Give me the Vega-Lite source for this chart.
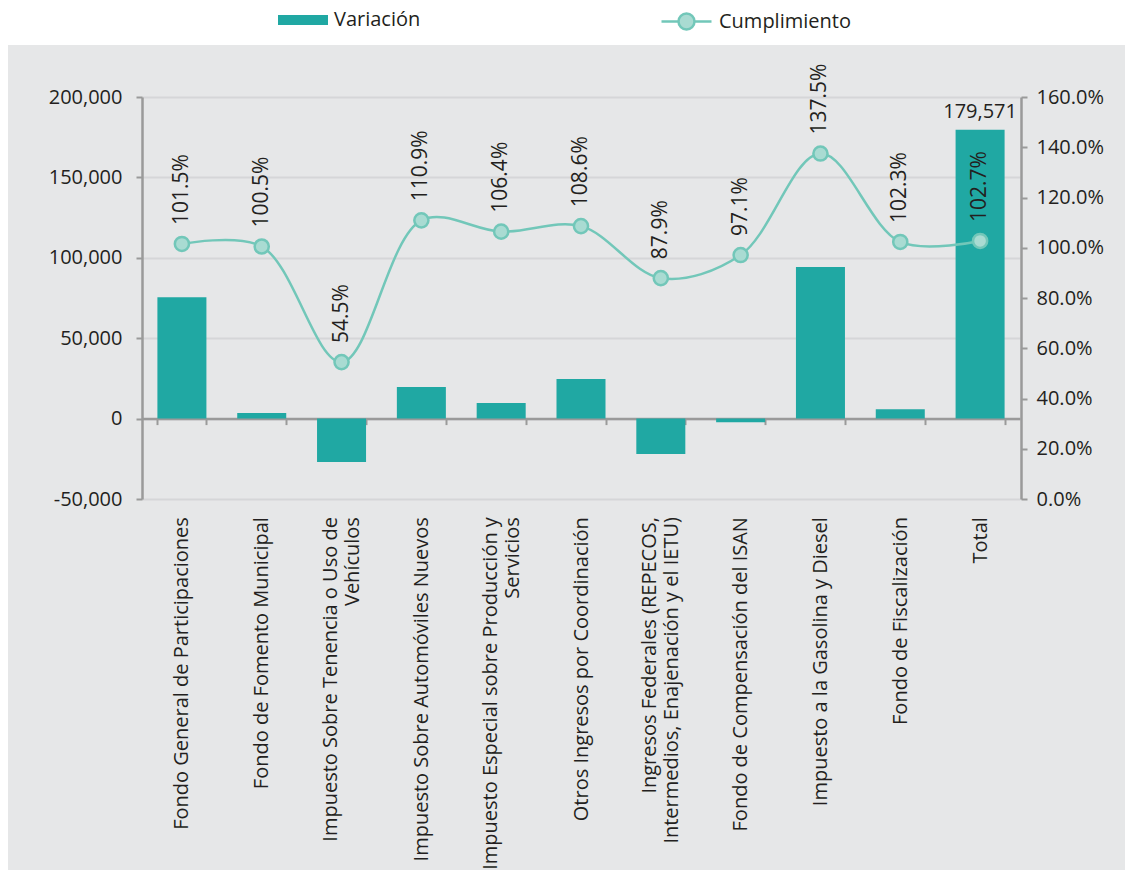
{
  "$schema": "https://vega.github.io/schema/vega-lite/v6.json",
  "width": 1117,
  "height": 825,
  "autosize": {"type": "none"},
  "padding": {"left": 8, "top": 45, "right": 5, "bottom": 4},
  "background": "#ffffff",
  "config": {
    "view": {"fill": "#e6e7e8", "stroke": null},
    "font": "Open Sans",
    "axis": {
      "labelFont": "Open Sans",
      "labelColor": "#231f20",
      "labelFontSize": 20,
      "domainColor": "#9a9a9a",
      "tickColor": "#9a9a9a",
      "domainWidth": 2.5,
      "tickWidth": 2,
      "tickSize": 6,
      "title": null
    },
    "legend": {
      "labelFont": "Open Sans",
      "labelFontSize": 20,
      "labelColor": "#231f20",
      "padding": 0
    }
  },
  "data": {
    "values": [
      {"concepto": "Fondo General de Participaciones", "variacion": 75500, "cumplimiento": 1.015},
      {"concepto": "Fondo de Fomento Municipal", "variacion": 3500, "cumplimiento": 1.005},
      {"concepto": "Impuesto Sobre Tenencia o Uso de Vehículos", "variacion": -27000, "cumplimiento": 0.545},
      {"concepto": "Impuesto Sobre Automóviles Nuevos", "variacion": 19700, "cumplimiento": 1.109},
      {"concepto": "Impuesto Especial sobre Producción y Servicios", "variacion": 9700, "cumplimiento": 1.064},
      {"concepto": "Otros Ingresos por Coordinación", "variacion": 24600, "cumplimiento": 1.086},
      {"concepto": "Ingresos Federales (REPECOS, Intermedios, Enajenación y el IETU)", "variacion": -22000, "cumplimiento": 0.879},
      {"concepto": "Fondo de Compensación del ISAN", "variacion": -2200, "cumplimiento": 0.971},
      {"concepto": "Impuesto a la Gasolina y Diesel", "variacion": 94300, "cumplimiento": 1.375},
      {"concepto": "Fondo de Fiscalización", "variacion": 5800, "cumplimiento": 1.023},
      {"concepto": "Total", "variacion": 179571, "cumplimiento": 1.027}
    ]
  },
  "encoding": {
    "x": {
      "field": "concepto",
      "type": "nominal",
      "sort": null,
      "scale": {"type": "band", "range": [134, 1012], "paddingInner": 0.386, "paddingOuter": 0.193},
      "axis": {
        "orient": "bottom",
        "offset": -451.4,
        "labelAngle": -90,
        "labelPadding": 92,
        "labelLimit": 500,
        "labelOverlap": false,
        "labelLineHeight": 22,
        "labelOffset": {
          "condition": {
            "test": "datum.value === 'Impuesto Sobre Tenencia o Uso de Vehículos' || datum.value === 'Impuesto Especial sobre Producción y Servicios' || datum.value === 'Ingresos Federales (REPECOS, Intermedios, Enajenación y el IETU)'",
            "value": -11
          },
          "value": 0
        },
        "tickBand": "extent",
        "grid": false,
        "title": null,
        "labelExpr": "datum.value === 'Impuesto Sobre Tenencia o Uso de Vehículos' ? ['Impuesto Sobre Tenencia o Uso de', 'Vehículos'] : datum.value === 'Impuesto Especial sobre Producción y Servicios' ? ['Impuesto Especial sobre Producción y', 'Servicios'] : datum.value === 'Ingresos Federales (REPECOS, Intermedios, Enajenación y el IETU)' ? ['Ingresos Federales (REPECOS,', 'Intermedios, Enajenación y el IETU)'] : datum.label"
      }
    }
  },
  "layer": [
    {
      "layer": [
        {
          "mark": {"type": "bar"},
          "encoding": {
            "y": {
              "field": "variacion",
              "type": "quantitative",
              "scale": {"domain": [-50000, 200000], "range": [454, 52], "nice": false, "zero": false},
              "axis": {
                "orient": "left",
                "offset": -134,
                "values": [-50000, 0, 50000, 100000, 150000, 200000],
                "format": ",.0f",
                "labelExpr": "replace(datum.label, '−', '-')",
                "grid": true,
                "gridColor": "#d5d6d8",
                "gridWidth": 2,
                "labelPadding": 14,
                "title": null
              }
            },
            "fill": {
              "datum": "Variación",
              "type": "nominal",
              "scale": {"domain": ["Variación"], "range": ["#20a8a3"]},
              "legend": {
                "orient": "none",
                "legendX": 270,
                "legendY": -50,
                "title": null,
                "symbolType": "M-1,-0.2H1V0.2H-1Z",
                "symbolSize": 2500,
                "symbolStrokeWidth": 0,
                "labelOffset": 6
              }
            }
          }
        },
        {
          "transform": [{"filter": "datum.concepto === 'Total'"}],
          "mark": {"type": "text", "baseline": "bottom", "dy": -8, "fontSize": 20, "color": "#231f20", "font": "Open Sans"},
          "encoding": {
            "y": {"field": "variacion", "type": "quantitative"},
            "text": {"field": "variacion", "type": "quantitative", "format": ",.0f"}
          }
        }
      ]
    },
    {
      "layer": [
        {
          "mark": {
            "type": "line",
            "interpolate": "catmull-rom",
            "strokeWidth": 2.5,
            "point": {"filled": true, "fill": "#a9dbd2", "stroke": "#72c7b9", "strokeWidth": 2.5, "size": 200}
          },
          "encoding": {
            "y": {
              "field": "cumplimiento",
              "type": "quantitative",
              "scale": {"domain": [0, 1.6], "range": [454, 52], "nice": false, "zero": false},
              "axis": {
                "orient": "right",
                "offset": -104,
                "values": [0, 0.2, 0.4, 0.6, 0.8, 1.0, 1.2, 1.4, 1.6],
                "format": ".1%",
                "grid": false,
                "labelPadding": 9,
                "title": null
              }
            },
            "stroke": {
              "datum": "Cumplimiento",
              "type": "nominal",
              "scale": {"domain": ["Cumplimiento"], "range": ["#72c7b9"]},
              "legend": {
                "orient": "none",
                "legendX": 652,
                "legendY": -50,
                "title": null,
                "symbolType": "M-1,0H-0.32M0.32,0H1M0.32,0A0.32,0.32,0,1,1,-0.32,0A0.32,0.32,0,1,1,0.32,0Z",
                "symbolSize": 2500,
                "symbolStrokeWidth": 2.5,
                "symbolFillColor": "#a9dbd2",
                "labelOffset": 6
              }
            }
          }
        },
        {
          "mark": {"type": "text", "angle": 270, "align": "left", "baseline": "middle", "dx": 19, "fontSize": 21, "color": "#231f20", "font": "Open Sans"},
          "encoding": {
            "y": {"field": "cumplimiento", "type": "quantitative"},
            "text": {"field": "cumplimiento", "type": "quantitative", "format": ".1%"}
          }
        }
      ]
    }
  ],
  "resolve": {"scale": {"y": "independent"}}
}
